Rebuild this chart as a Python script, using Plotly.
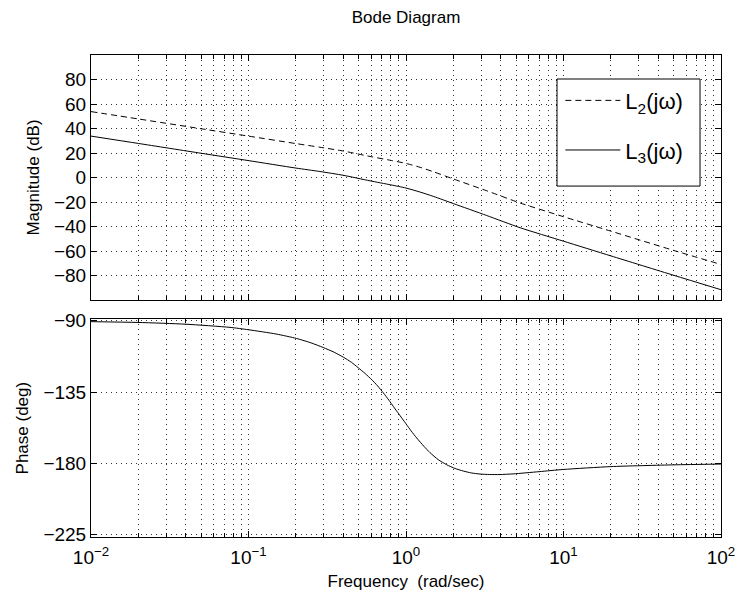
import plotly.graph_objects as go

# ---- data ----
freq_mag = [0.01, 0.02, 0.05, 0.1, 0.2, 0.284, 0.4, 0.59, 0.8, 1.0, 1.23, 1.5, 2.0, 3.25, 5.3, 10.0, 20.0, 50.0, 100.0]
mag_L3 = [33.8, 27.8, 19.8, 13.8, 7.7, 4.9, 1.8, -2.7, -6.0, -8.6, -11.9, -15.5, -21.3, -31.0, -41.0, -52.0, -64.0, -79.8, -91.6]
mag_L2 = [53.8, 47.8, 39.8, 33.8, 27.7, 24.7, 21.6, 17.2, 14.0, 11.5, 8.3, 4.6, -1.2, -10.8, -20.8, -32.0, -43.8, -59.5, -71.0]

freq_ph = [0.01, 0.02, 0.04, 0.0763, 0.1, 0.15, 0.202, 0.25, 0.298, 0.35, 0.4, 0.45, 0.498, 0.55, 0.605, 0.66,
           0.718, 0.78, 0.83, 0.9, 1.0, 1.08, 1.17, 1.3, 1.42, 1.6, 1.81, 2.05, 2.31, 2.6, 2.95, 3.4, 3.95,
           4.8, 7.0, 10.0, 20.0, 50.0, 100.0]
phase = [-90.6, -91.1, -92.2, -94.2, -95.7, -98.4, -101.2, -104.0, -106.9, -109.9, -113.0, -116.2, -119.7, -123.3,
         -127.1, -131.1, -135.5, -140.2, -144.0, -148.8, -155.0, -159.6, -164.0, -169.2, -173.2, -177.6, -180.8,
         -183.2, -184.8, -186.0, -186.7, -187.0, -187.0, -186.6, -185.2, -183.8, -182.0, -180.9, -180.4]

mag_ticks = [-80, -60, -40, -20, 0, 20, 40, 60, 80]
phase_ticks = [-225, -180, -135, -90]
freq_ticks = [0.01, 0.1, 1, 10, 100]
freq_ticktext = ["10<sup>−2</sup>", "10<sup>−1</sup>", "10<sup>0</sup>", "10<sup>1</sup>", "10<sup>2</sup>"]
series_names = ["L<sub>2</sub>(jω)", "L<sub>3</sub>(jω)"]

FONT = "Liberation Sans, Arial, Helvetica, sans-serif"
GRID = "#333333"

fig = go.Figure()
fig.add_trace(go.Scatter(x=freq_mag, y=mag_L2, mode="lines", name=series_names[0], legendgroup="a",
                         line=dict(color="black", width=1, dash="6px,4px", shape="spline", smoothing=0.6),
                         xaxis="x2", yaxis="y2"))
fig.add_trace(go.Scatter(x=freq_mag, y=mag_L3, mode="lines", name=series_names[1], legendgroup="b",
                         line=dict(color="black", width=1, shape="spline", smoothing=0.6),
                         xaxis="x2", yaxis="y2"))
fig.add_trace(go.Scatter(x=freq_ph, y=phase, mode="lines", showlegend=False,
                         line=dict(color="black", width=1, shape="spline", smoothing=0.6),
                         xaxis="x", yaxis="y"))

common_x = dict(type="log", range=[-2, 2], tickvals=freq_ticks, ticktext=freq_ticktext,
                ticks="inside", ticklen=6, tickcolor="black", showline=True, linecolor="black",
                linewidth=1, mirror="allticks", showgrid=True, gridcolor=GRID, griddash="1px,4px",
                gridwidth=1, zeroline=False, automargin=False,
                minor=dict(dtick="D1", ticks="inside", ticklen=4, tickcolor="black",
                           showgrid=True, gridcolor=GRID, griddash="1px,4px", gridwidth=1))
common_y = dict(ticks="inside", ticklen=6, tickcolor="black", showline=True, linecolor="black",
                linewidth=1, mirror="allticks", showgrid=True, gridcolor=GRID, griddash="1px,4px",
                gridwidth=1, zeroline=False, automargin=False, tickfont=dict(size=19, color="black"))

fig.update_layout(
    width=738, height=596,
    margin=dict(l=91, r=17, t=55, b=59),
    paper_bgcolor="white", plot_bgcolor="white",
    font=dict(family=FONT, color="black"),
    title=dict(text="Bode Diagram", x=0.5, xanchor="center", xref="paper", y=1 - 17 / 596, yanchor="middle",
               font=dict(size=17, color="black")),
    xaxis=dict(**common_x, domain=[0, 1], anchor="y", tickfont=dict(size=19, color="black"),
               ticklabelstandoff=3,
               title=dict(text="Frequency\u00a0 (rad/sec)", font=dict(size=17), standoff=8)),
    xaxis2=dict(**common_x, domain=[0, 1], anchor="y2", showticklabels=False, matches="x"),
    yaxis=dict(**common_y, domain=[0, 0.4517], range=[-226.4, -89.1], tickvals=phase_ticks,
               title=dict(text="Phase (deg)", font=dict(size=17), standoff=10)),
    yaxis2=dict(**common_y, domain=[0.4917, 1], range=[-100, 100], tickvals=mag_ticks,
                title=dict(text="Magnitude (dB)", font=dict(size=17), standoff=10)),
    legend=dict(x=0.745, y=0.949, xanchor="left", yanchor="top", xref="paper", yref="paper",
                bgcolor="rgba(0,0,0,0)", borderwidth=0, traceorder="grouped",
                font=dict(size=22, color="black"), itemwidth=55, tracegroupgap=18),
    showlegend=True,
    shapes=[dict(type="rect", xref="x2 domain", yref="y2 domain", x0=0.7397, x1=0.9667, y0=0.465, y1=0.902,
                 line=dict(color="black", width=1), fillcolor="white", layer="above")],
)

fig.write_html("out.html", config={"displayModeBar": False},
               post_script="document.body.style.margin='0';document.body.style.overflow='hidden';")
